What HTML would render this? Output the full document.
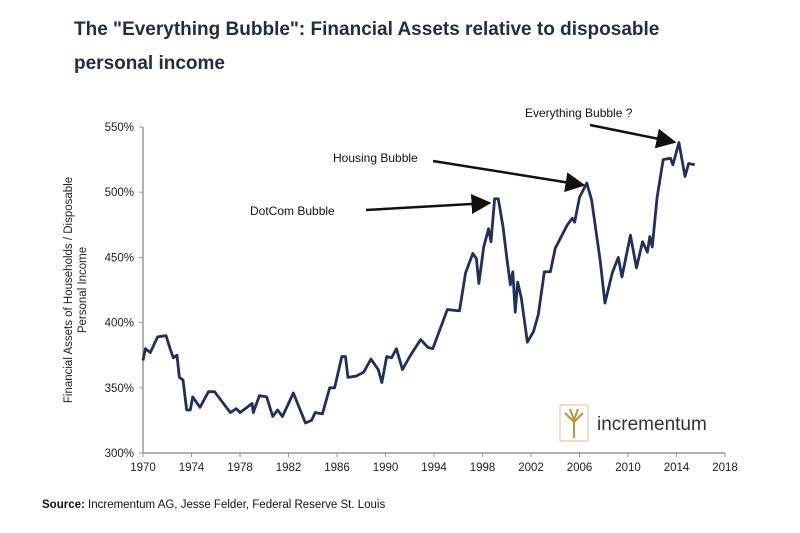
<!DOCTYPE html>
<html><head><meta charset="utf-8"><style>
body{margin:0;background:#fff;width:800px;height:533px;overflow:hidden;font-family:"Liberation Sans",sans-serif}
.t{position:absolute;left:74px;font-weight:bold;font-size:19px;color:#1f2d45}
</style></head><body>
<div class="t" style="top:19px">The "Everything Bubble": Financial Assets relative to disposable</div>
<div class="t" style="top:53px">personal income</div>
<svg id="c" width="800" height="533" style="position:absolute;left:0;top:0">
<defs><marker id="ah" markerWidth="8" markerHeight="8" refX="7" refY="4" orient="auto"><path d="M0,0L8,4L0,8z" fill="#111"/></marker></defs>
<g id="g"></g>
<text x="0" y="0" transform="translate(72,290) rotate(-90)" text-anchor="middle" font-size="11.5" fill="#222">Financial Assets of Households / Disposable</text>
<text x="0" y="0" transform="translate(86,290) rotate(-90)" text-anchor="middle" font-size="11.5" fill="#222">Personal Income</text>
<text x="250" y="215" font-size="12" fill="#111">DotCom Bubble</text>
<line x1="366" y1="210" x2="489" y2="203" stroke="#111" stroke-width="2.5" marker-end="url(#ah)"/>
<text x="333" y="162" font-size="12" fill="#111">Housing Bubble</text>
<line x1="433" y1="161" x2="583" y2="185" stroke="#111" stroke-width="2.5" marker-end="url(#ah)"/>
<text x="525" y="117" font-size="12" fill="#111">Everything Bubble ?</text>
<line x1="590" y1="125" x2="674" y2="142" stroke="#111" stroke-width="2.5" marker-end="url(#ah)"/>
<g>
<rect x="560" y="405" width="28" height="36" fill="#fff" stroke="#d8c48a"/>
<path d="M574,438V420M574,422L565,413M574,422L583,413M574,420L570,409M574,420L578,409" stroke="#b8963a" stroke-width="2"/>
<text x="597" y="430" font-size="19" fill="#333">incrementum</text>
</g>
<text x="42" y="508" font-size="11.5" fill="#111"><tspan font-weight="bold">Source:</tspan> Incrementum AG, Jesse Felder, Federal Reserve St. Louis</text>
</svg>
<script>
const years=[1970.0,1970.2,1970.6,1971.2,1971.9,1972.2,1972.5,1972.8,1973.0,1973.3,1973.6,1973.9,1974.1,1974.7,1975.4,1975.9,1977.2,1977.7,1978.0,1979.0,1979.1,1979.6,1980.2,1980.7,1981.1,1981.5,1982.4,1983.4,1983.9,1984.2,1984.8,1985.4,1985.8,1986.4,1986.7,1986.9,1987.6,1988.2,1988.8,1989.4,1989.7,1990.1,1990.5,1990.9,1991.4,1992.0,1992.9,1993.5,1993.9,1995.1,1996.1,1996.6,1997.2,1997.5,1997.7,1998.1,1998.5,1998.7,1999.0,1999.3,1999.7,2000.0,2000.3,2000.5,2000.7,2000.9,2001.2,2001.7,2002.2,2002.6,2003.1,2003.6,2004.0,2005.0,2005.4,2005.6,2006.0,2006.6,2007.0,2007.7,2008.1,2008.7,2009.2,2009.5,2010.2,2010.7,2011.2,2011.6,2011.8,2012.0,2012.4,2012.9,2013.5,2013.7,2014.2,2014.7,2015.0,2015.5];
const values=[371,380,377,389,390,381,373,375,358,356,333,333,343,335,347,347,331,334,331,338,331,344,343,328,333,328,346,323,325,331,330,350,350,374,374,358,359,362,372,364,354,374,373,380,364,374,387,381,380,410,409,438,453,449,430,458,472,462,495,495,473,450,429,439,408,431,419,385,393,406,439,439,457,475,480,477,496,507,494,448,415,438,450,435,467,442,462,454,466,458,496,525,526,521,538,512,522,521];
const yTicks=[300,350,400,450,500,550];
const xTicks=[1970,1974,1978,1982,1986,1990,1994,1998,2002,2006,2010,2014,2018];
const X=y=>143+(y-1970)*12.125, Y=v=>453-(v-300)*1.304;
const g=document.getElementById('g'),NS='http://www.w3.org/2000/svg';
function mk(t,a){const e=document.createElementNS(NS,t);for(const k in a)e.setAttribute(k,a[k]);g.appendChild(e);return e;}
const ya=mk('line',{x1:143,y1:Y(550),x2:143,y2:453,stroke:'#999','stroke-width':1.5});


const xa=mk('line',{x1:143,y1:453,x2:X(2018),y2:453,stroke:'#999','stroke-width':1.5});


yTicks.forEach(v=>{mk('line',{x1:139,x2:143,y1:Y(v),y2:Y(v),stroke:'#999'});
const t=mk('text',{x:134,y:Y(v)+4,'text-anchor':'end','font-size':11.5,fill:'#222'});t.textContent=v+'%';

});
xTicks.forEach(y=>{mk('line',{x1:X(y),x2:X(y),y1:453,y2:457,stroke:'#999'});
const t=mk('text',{x:X(y),y:471,'text-anchor':'middle','font-size':11.5,fill:'#222'});t.textContent=y;

});
const p=mk('polyline',{points:years.map((y,i)=>X(y)+','+Y(values[i])).join(' '),fill:'none',stroke:'#1f2f5e','stroke-width':2.8,'stroke-linejoin':'round'});


</script>
</body></html>
